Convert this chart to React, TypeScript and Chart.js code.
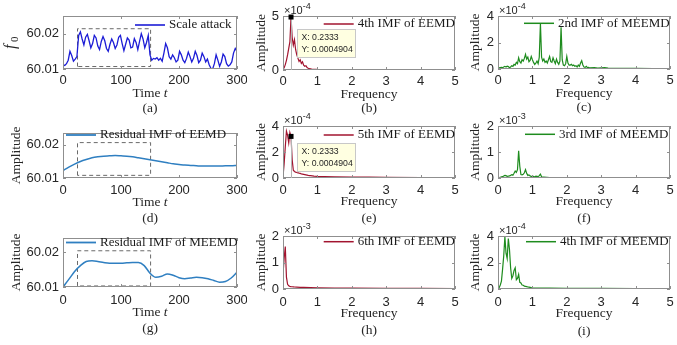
import React, { useEffect, useRef } from 'react';
import { Chart, registerables } from 'chart.js';

Chart.register(...registerables);

const SANS = '"Liberation Sans", Arial, Helvetica, sans-serif';
const SERIF = '"Liberation Serif", "Times New Roman", Times, serif';
const TEXT = '#262626';
const FRAME = '#8f8f8f';

// ---------------- data ----------------
// (a) f0 under scale attack, sampled every 3 time units from t = 0 to 300
const attackStep = 3;
const attackF0 = [
  60.0112, 60.0110, 60.0115, 60.0125, 60.0150, 60.0138, 60.0122, 60.0128, 60.0135, 60.0195,
  60.0205, 60.0185, 60.0168, 60.0190, 60.0198, 60.0180, 60.0160, 60.0172, 60.0195, 60.0188,
  60.0165, 60.0155, 60.0178, 60.0192, 60.0180, 60.0158, 60.0150, 60.0170, 60.0185, 60.0175,
  60.0158, 60.0168, 60.0190, 60.0195, 60.0172, 60.0152, 60.0170, 60.0188, 60.0182, 60.0160,
  60.0162, 60.0186, 60.0175, 60.0155, 60.0178, 60.0200, 60.0185, 60.0160, 60.0175, 60.0195,
  60.0140, 60.0125, 60.0130, 60.0128, 60.0132, 60.0125, 60.0130, 60.0122, 60.0145, 60.0172,
  60.0160, 60.0135, 60.0128, 60.0140, 60.0132, 60.0120, 60.0125, 60.0150, 60.0140, 60.0125,
  60.0118, 60.0130, 60.0148, 60.0135, 60.0120, 60.0130, 60.0150, 60.0138, 60.0118, 60.0125,
  60.0145, 60.0135, 60.0120, 60.0128, 60.0112, 60.0102, 60.0100, 60.0115, 60.0140, 60.0125,
  60.0108, 60.0120, 60.0142, 60.0135, 60.0115, 60.0108, 60.0112, 60.0120, 60.0145, 60.0158,
  60.0150,
];

// (d), (g) residual IMFs, every 10 time units
const residualStep = 10;
const residualEemd = [
  60.0123, 60.0133, 60.0142, 60.0150, 60.0156, 60.0161, 60.0164, 60.0166, 60.0167, 60.0168,
  60.0167, 60.0166, 60.0164, 60.0161, 60.0158, 60.0155, 60.0152, 60.0149, 60.0146, 60.0143,
  60.0141, 60.0139, 60.0138, 60.0137, 60.0136, 60.0136, 60.0136, 60.0136, 60.0137, 60.0137,
  60.0138,
];
const residualMeemd = [
  60.0100, 60.0122, 60.0145, 60.0162, 60.0174, 60.0176, 60.0174, 60.0171, 60.0169, 60.0169,
  60.0169, 60.0170, 60.0171, 60.0171, 60.0162, 60.0140, 60.0128, 60.0131, 60.0138, 60.0134,
  60.0127, 60.0124, 60.0126, 60.0128, 60.0127, 60.0124, 60.0119, 60.0114, 60.0116, 60.0126,
  60.0143,
];

// dashed boxes marking the attack window
const windowT = [25, 151];
const windowA = [60.0107, 60.0214];
const windowD = [60.0108, 60.0207];
const windowG = [60.0103, 60.0205];

// spectra: FFT bins every 1/30 Hz, then a sparse tail
const binHz = 1 / 30;
const imf4EemdAmp = [ // x1e-4
  0.05, 0.2, 0.5, 0.9, 1.4, 2.0, 2.6, 4.904, 3.0, 2.3,
  2.8, 1.9, 1.4, 1.1, 0.8, 0.95, 0.6, 0.75, 0.45, 0.35,
  0.4, 0.22, 0.16, 0.12, 0.1, 0.08, 0.07, 0.06, 0.05, 0.05,
  0.04,
];
const imf4EemdTailHz = [1.5, 2, 2.5, 3, 4, 5];
const imf4EemdTailAmp = [0.03, 0.025, 0.02, 0.02, 0.015, 0.01];

const imf2MeemdAmp = [ // x1e-4
  0.05, 0.08, 0.1, 0.12, 0.1, 0.15, 0.2, 0.15, 0.22, 0.18,
  0.1, 0.15, 0.25, 0.2, 0.35, 0.3, 0.5, 0.4, 0.85, 0.55,
  0.45, 0.7, 0.6, 0.8, 1.1, 0.75, 0.9, 0.55, 0.65, 0.95,
  0.7, 0.5, 0.35, 0.45, 0.6, 0.4, 0.9, 3.45, 0.9, 0.6,
  0.75, 0.5, 0.6, 0.45, 0.7, 0.95, 0.55, 0.5, 0.85, 0.6,
  0.4, 0.75, 0.5, 0.35, 0.6, 3.15, 0.7, 0.3, 0.25, 0.4,
  0.95, 0.45, 0.3, 0.3, 0.35, 0.25, 0.3, 0.2, 0.25, 0.15,
  0.3, 0.2, 0.45, 0.62, 0.3, 0.15, 0.12, 0.2, 0.1, 0.12,
  0.08,
];
const imf2MeemdTailHz = [2.8, 2.9, 3.0, 3.1, 3.2, 3.3, 3.5, 3.7, 4.0, 4.5, 5.0];
const imf2MeemdTailAmp = [0.1, 0.06, 0.08, 0.1, 0.06, 0.05, 0.05, 0.04, 0.04, 0.03, 0.03];

const imf5EemdAmp = [ // x1e-4
  0.1, 1.1, 2.4, 3.6, 3.3, 2.7, 3.5, 3.2, 1.4, 0.6,
  0.5, 0.45, 0.42, 0.4, 0.37, 0.35, 0.32, 0.3, 0.28, 0.26,
  0.24, 0.22, 0.2, 0.19, 0.18,
];
const imf5EemdTailHz = [0.9, 1.0, 1.2, 1.5, 2, 2.5, 3, 4, 5];
const imf5EemdTailAmp = [0.15, 0.13, 0.11, 0.09, 0.07, 0.06, 0.05, 0.04, 0.03];

const imf3MeemdAmp = [ // x1e-3
  0.01, 0.02, 0.03, 0.04, 0.05, 0.08, 0.1, 0.09, 0.06, 0.07,
  0.08, 0.1, 0.13, 0.11, 0.18, 0.27, 0.22, 0.32, 1.05, 0.45,
  0.13, 0.12, 0.14, 0.2, 0.32, 0.18, 0.1, 0.12, 0.08, 0.06,
  0.05, 0.06, 0.04, 0.07, 0.06, 0.05, 0.09, 0.15, 0.05, 0.03,
  0.03,
];
const imf3MeemdTailHz = [1.5, 2, 3, 4, 5];
const imf3MeemdTailAmp = [0.02, 0.015, 0.012, 0.01, 0.01];

const imf6EemdAmp = [ // x1e-3
  0.55, 1.15, 1.6, 0.45, 0.18, 0.12, 0.1, 0.09, 0.085, 0.08,
  0.075,
];
const imf6EemdTailHz = [0.4, 0.5, 0.6, 0.8, 1.0, 1.5, 2, 3, 4, 5];
const imf6EemdTailAmp = [0.07, 0.065, 0.06, 0.05, 0.045, 0.035, 0.03, 0.025, 0.02, 0.015];

const imf4MeemdAmp = [ // x1e-4
  0.02, 0.1, 0.3, 0.6, 1.5, 2.5, 3.95, 2.7, 2.3, 3.8,
  3.0, 1.6, 0.8, 1.0, 1.4, 1.6, 0.7, 0.8, 1.1, 0.5,
  0.45, 0.3, 0.28, 0.22, 0.2, 0.18, 0.15, 0.14, 0.12, 0.1,
  0.09,
];
const imf4MeemdTailHz = [1.2, 1.5, 2, 3, 4, 5];
const imf4MeemdTailAmp = [0.07, 0.06, 0.05, 0.04, 0.03, 0.03];

// tick labels
const timeTicks = [0, 100, 200, 300];
const freqTicks = [0, 1, 2, 3, 4, 5];
const f0Ticks = [60.01, 60.02];
const ticks05 = [0, 5];
const ticks024 = [0, 2, 4];
const ticks012 = [0, 1, 2];

// datatip
const tipHz = 0.2333;
const tipLines = ['X: 0.2333', 'Y: 0.0004904'];

// ---------------- helpers ----------------
type Pt = { x: number; y: number };
const series = (vals: number[], step: number): Pt[] => vals.map((v, i) => ({ x: i * step, y: v }));
const spectrum = (dense: number[], tailHz: number[], tailAmp: number[]): Pt[] => {
  const pts = dense.map((a, k) => ({ x: k * binHz, y: a }));
  tailHz.forEach((f, i) => pts.push({ x: f, y: tailAmp[i] }));
  return pts;
};
const box = (t: number[], v: number[]): Pt[] => [
  { x: t[0], y: v[0] }, { x: t[0], y: v[1] }, { x: t[1], y: v[1] }, { x: t[1], y: v[0] }, { x: t[0], y: v[0] },
];

interface Spec {
  L: number; T: number; R: number; B: number;
  xMax: number; xTicks: number[];
  yMin: number; yMax: number; yTicks: number[]; yDigits: number;
  data: Pt[]; color: string; width: number; smooth?: boolean;
  rect?: Pt[];
  legend: string; legendDx: number; legendDy: number;
  xTitle: 'time' | 'freq';
  yTitle: 'f0' | 'amp'; yTitleDx: number;
  exp?: string;
  caption: string;
  tickPad: number; xTitleDy: number; captionDy: number;
  tip?: { x: number; y: number; dx: number; dy: number };
}

const RED = '#a2142f';
const GREEN = '#1e8c1e';
const BLUE = '#1c1cd6';
const RBLUE = '#2f7fc1';

const specs: Spec[] = [
  { L: 63, T: 16, R: 237, B: 69, xMax: 300, xTicks: timeTicks, yMin: 60.01, yMax: 60.025, yTicks: f0Ticks, yDigits: 2,
    data: series(attackF0, attackStep), color: BLUE, width: 1.3, rect: box(windowT, windowA),
    legend: 'Scale attack', legendDx: 106, legendDy: 9, xTitle: 'time', yTitle: 'f0', yTitleDx: -48,
    caption: '(a)', tickPad: 4, xTitleDy: 24, captionDy: 39 },
  { L: 283, T: 16, R: 455, B: 70, xMax: 5, xTicks: freqTicks, yMin: 0, yMax: 5, yTicks: ticks05, yDigits: 0,
    data: spectrum(imf4EemdAmp, imf4EemdTailHz, imf4EemdTailAmp), color: RED, width: 1.2,
    legend: '4th IMF of EEMD', legendDx: 74.7, legendDy: 8, xTitle: 'freq', yTitle: 'amp', yTitleDx: -21.3,
    exp: '-4', caption: '(b)', tickPad: 4, xTitleDy: 24, captionDy: 38, tip: { x: tipHz, y: 4.904, dx: 6, dy: 12 } },
  { L: 498, T: 16, R: 670, B: 69, xMax: 5, xTicks: freqTicks, yMin: 0, yMax: 4, yTicks: ticks024, yDigits: 0,
    data: spectrum(imf2MeemdAmp, imf2MeemdTailHz, imf2MeemdTailAmp), color: GREEN, width: 1.2,
    legend: '2nd IMF of MEEMD', legendDx: 60, legendDy: 7.3, xTitle: 'freq', yTitle: 'amp', yTitleDx: -23,
    exp: '-4', caption: '(c)', tickPad: 4, xTitleDy: 24, captionDy: 38 },
  { L: 63, T: 133, R: 237, B: 178, xMax: 300, xTicks: timeTicks, yMin: 60.01, yMax: 60.0236, yTicks: f0Ticks, yDigits: 2,
    data: series(residualEemd, residualStep), color: RBLUE, width: 1.5, smooth: true, rect: box(windowT, windowD),
    legend: 'Residual IMF of EEMD', legendDx: 37, legendDy: 2, xTitle: 'time', yTitle: 'amp', yTitleDx: -47,
    caption: '(d)', tickPad: 5, xTitleDy: 24, captionDy: 40 },
  { L: 283, T: 126, R: 455, B: 178, xMax: 5, xTicks: freqTicks, yMin: 0, yMax: 4, yTicks: ticks024, yDigits: 0,
    data: spectrum(imf5EemdAmp, imf5EemdTailHz, imf5EemdTailAmp), color: RED, width: 1.2,
    legend: '5th IMF of EEMD', legendDx: 74.7, legendDy: 9, xTitle: 'freq', yTitle: 'amp', yTitleDx: -21.3,
    exp: '-4', caption: '(e)', tickPad: 5, xTitleDy: 23, captionDy: 40, tip: { x: tipHz, y: 3.2, dx: 6, dy: 6.6 } },
  { L: 498, T: 126, R: 670, B: 178, xMax: 5, xTicks: freqTicks, yMin: 0, yMax: 2, yTicks: ticks012, yDigits: 0,
    data: spectrum(imf3MeemdAmp, imf3MeemdTailHz, imf3MeemdTailAmp), color: GREEN, width: 1.2,
    legend: '3rd IMF of MEEMD', legendDx: 61, legendDy: 8.3, xTitle: 'freq', yTitle: 'amp', yTitleDx: -23,
    exp: '-3', caption: '(f)', tickPad: 5, xTitleDy: 23, captionDy: 40 },
  { L: 63, T: 238, R: 237, B: 287, xMax: 300, xTicks: timeTicks, yMin: 60.01, yMax: 60.0242, yTicks: f0Ticks, yDigits: 2,
    data: series(residualMeemd, residualStep), color: RBLUE, width: 1.5, smooth: true, rect: box(windowT, windowG),
    legend: 'Residual IMF of MEEMD', legendDx: 37, legendDy: 4.5, xTitle: 'time', yTitle: 'amp', yTitleDx: -47,
    caption: '(g)', tickPad: 6, xTitleDy: 25, captionDy: 41 },
  { L: 283, T: 236, R: 455, B: 289, xMax: 5, xTicks: freqTicks, yMin: 0, yMax: 2, yTicks: ticks012, yDigits: 0,
    data: spectrum(imf6EemdAmp, imf6EemdTailHz, imf6EemdTailAmp), color: RED, width: 1.2,
    legend: '6th IMF of EEMD', legendDx: 74.7, legendDy: 5.7, xTitle: 'freq', yTitle: 'amp', yTitleDx: -21.3,
    exp: '-3', caption: '(h)', tickPad: 6, xTitleDy: 24, captionDy: 41 },
  { L: 498, T: 236, R: 670, B: 289, xMax: 5, xTicks: freqTicks, yMin: 0, yMax: 4, yTicks: ticks024, yDigits: 0,
    data: spectrum(imf4MeemdAmp, imf4MeemdTailHz, imf4MeemdTailAmp), color: GREEN, width: 1.2,
    legend: '4th IMF of MEEMD', legendDx: 62, legendDy: 5.7, xTitle: 'freq', yTitle: 'amp', yTitleDx: -23,
    exp: '-4', caption: '(i)', tickPad: 6, xTitleDy: 24, captionDy: 42 },
];

const PAD_L = 63, PAD_T = 18, PAD_R = 10, PAD_B = 50;

function makeDecor(s: Spec) {
  return {
    id: 'decor',
    afterDraw(chart: any) {
      const { ctx, chartArea: a, scales } = chart;
      const xs = scales.x, ys = scales.y;
      ctx.save();
      // axes frame with inward ticks
      ctx.strokeStyle = FRAME;
      ctx.lineWidth = 1;
      ctx.strokeRect(a.left + 0.5, a.top + 0.5, a.right - a.left - 1, a.bottom - a.top - 1);
      ctx.beginPath();
      s.xTicks.forEach((v) => {
        const px = Math.round(xs.getPixelForValue(v)) + 0.5;
        ctx.moveTo(px, a.bottom); ctx.lineTo(px, a.bottom - 3);
        ctx.moveTo(px, a.top); ctx.lineTo(px, a.top + 3);
      });
      s.yTicks.forEach((v) => {
        const py = Math.round(ys.getPixelForValue(v)) + 0.5;
        ctx.moveTo(a.left, py); ctx.lineTo(a.left + 3, py);
        ctx.moveTo(a.right, py); ctx.lineTo(a.right - 3, py);
      });
      ctx.stroke();

      const cx = (a.left + a.right) / 2;
      ctx.fillStyle = TEXT;
      ctx.textBaseline = 'middle';

      // x title
      if (s.xTitle === 'time') {
        ctx.font = `13.5px ${SERIF}`;
        const w1 = ctx.measureText('Time ').width;
        ctx.font = `italic 13.5px ${SERIF}`;
        const w2 = ctx.measureText('t').width;
        const x0 = cx - (w1 + w2) / 2;
        ctx.textAlign = 'left';
        ctx.font = `13.5px ${SERIF}`;
        ctx.fillText('Time ', x0, a.bottom + s.xTitleDy);
        ctx.font = `italic 13.5px ${SERIF}`;
        ctx.fillText('t', x0 + w1, a.bottom + s.xTitleDy);
      } else {
        ctx.font = `13.5px ${SERIF}`;
        ctx.textAlign = 'center';
        ctx.fillText('Frequency', cx, a.bottom + s.xTitleDy);
      }
      // caption
      ctx.font = `13.5px ${SERIF}`;
      ctx.textAlign = 'center';
      ctx.fillText(s.caption, cx, a.bottom + s.captionDy);

      // y title
      const cy = (a.top + a.bottom) / 2;
      ctx.save();
      if (s.yTitle === 'amp') {
        ctx.translate(a.left + s.yTitleDx, cy);
        ctx.rotate(-Math.PI / 2);
        ctx.textAlign = 'center';
        ctx.font = `13.5px ${SERIF}`;
        ctx.fillText('Amplitude', 0, 0);
      } else {
        ctx.translate(a.left + s.yTitleDx, a.top + 33);
        ctx.rotate(-Math.PI / 2);
        ctx.textAlign = 'left';
        ctx.textBaseline = 'alphabetic';
        ctx.font = `italic 16px ${SERIF}`;
        ctx.fillText('f', 0, 0);
        ctx.font = `11px ${SERIF}`;
        ctx.fillText('0', 7, 3);
      }
      ctx.restore();

      // exponent
      if (s.exp) {
        ctx.textAlign = 'left';
        ctx.textBaseline = 'alphabetic';
        ctx.font = `11px ${SANS}`;
        const w = ctx.measureText('×10').width;
        ctx.fillText('×10', a.left + 1, a.top - 2);
        ctx.font = `9px ${SANS}`;
        ctx.fillText(s.exp, a.left + 1 + w, a.top - 7.5);
      }

      // legend
      const ly = a.top + s.legendDy;
      const tx = a.left + s.legendDx;
      ctx.strokeStyle = s.color;
      ctx.lineWidth = s.width + 0.3;
      ctx.beginPath();
      ctx.moveTo(tx - 34, ly); ctx.lineTo(tx - 4, ly);
      ctx.stroke();
      ctx.fillStyle = '#1a1a1a';
      ctx.textAlign = 'left';
      ctx.textBaseline = 'middle';
      ctx.font = `13px ${SERIF}`;
      ctx.fillText(s.legend, tx, ly);

      // datatip
      if (s.tip) {
        const px = xs.getPixelForValue(s.tip.x);
        const py = ys.getPixelForValue(s.tip.y);
        ctx.strokeStyle = '#b4b4b4';
        ctx.lineWidth = 1;
        ctx.beginPath();
        ctx.moveTo(Math.round(px) + 0.5, py); ctx.lineTo(Math.round(px) + 0.5, a.bottom);
        ctx.stroke();
        ctx.fillStyle = '#000';
        ctx.fillRect(px - 2.5, py - 2.5, 5, 5);
        const bx = Math.round(px + s.tip.dx) + 0.5;
        const by = Math.round(py + s.tip.dy) + 0.5;
        ctx.fillStyle = '#ffffe1';
        ctx.fillRect(bx, by, 58, 28);
        ctx.strokeStyle = '#c8c8c8';
        ctx.strokeRect(bx, by, 58, 28);
        ctx.fillStyle = TEXT;
        ctx.font = `8.7px ${SANS}`;
        ctx.textAlign = 'left';
        ctx.textBaseline = 'middle';
        ctx.fillText(tipLines[0], bx + 4, by + 8.5);
        ctx.fillText(tipLines[1], bx + 4, by + 20.5);
      }
      ctx.restore();
    },
  };
}

function Panel({ spec }: { spec: Spec }) {
  const ref = useRef<HTMLCanvasElement>(null);
  const w = spec.R - spec.L + PAD_L + PAD_R;
  const h = spec.B - spec.T + PAD_T + PAD_B;
  useEffect(() => {
    const datasets: any[] = [
      {
        data: spec.data, borderColor: spec.color, borderWidth: spec.width, pointRadius: 0,
        tension: spec.smooth ? 0.4 : 0, cubicInterpolationMode: spec.smooth ? 'monotone' : 'default', fill: false,
      },
    ];
    if (spec.rect) {
      datasets.push({ data: spec.rect, borderColor: '#6a6a6a', borderWidth: 1, borderDash: [4, 3], pointRadius: 0, fill: false, tension: 0 });
    }
    const chart = new Chart(ref.current as HTMLCanvasElement, {
      type: 'line',
      data: { datasets },
      options: {
        animation: false,
        responsive: false,
        devicePixelRatio: 1,
        events: [],
        layout: { padding: { left: 0, top: PAD_T, right: PAD_R, bottom: 0 } },
        plugins: { legend: { display: false }, tooltip: { enabled: false }, title: { display: false } },
        scales: {
          x: {
            type: 'linear', min: 0, max: spec.xMax, bounds: 'data',
            grid: { display: false, drawTicks: false }, border: { display: false },
            ticks: {
              autoSkip: false, maxRotation: 0, minRotation: 0, padding: spec.tickPad, color: TEXT,
              font: { family: SANS, size: 13 }, callback: (v: any) => String(v),
            },
            afterBuildTicks: (sc: any) => { sc.ticks = spec.xTicks.map((v) => ({ value: v })); },
            afterFit: (sc: any) => { sc.height = PAD_B; sc.paddingLeft = 0; sc.paddingRight = 0; sc.paddingTop = 0; sc.paddingBottom = 0; },
          },
          y: {
            type: 'linear', min: spec.yMin, max: spec.yMax, bounds: 'data',
            grid: { display: false, drawTicks: false }, border: { display: false },
            ticks: {
              autoSkip: false, padding: 4, color: TEXT,
              font: { family: SANS, size: 13 }, callback: (v: any) => Number(v).toFixed(spec.yDigits),
            },
            afterBuildTicks: (sc: any) => { sc.ticks = spec.yTicks.map((v) => ({ value: v })); },
            afterFit: (sc: any) => { sc.width = PAD_L; sc.paddingLeft = 0; sc.paddingRight = 0; sc.paddingTop = 0; sc.paddingBottom = 0; },
          },
        },
      } as any,
      plugins: [makeDecor(spec)],
    });
    return () => chart.destroy();
  }, [spec]);
  return (
    <canvas
      ref={ref}
      width={w}
      height={h}
      style={{ position: 'absolute', left: spec.L - PAD_L, top: spec.T - PAD_T, width: w, height: h }}
    />
  );
}

export default function App() {
  return (
    <div style={{ position: 'fixed', left: 0, top: 0, width: 677, height: 345, background: '#fff', overflow: 'hidden' }}>
      {specs.map((s, i) => <Panel key={i} spec={s} />)}
    </div>
  );
}
